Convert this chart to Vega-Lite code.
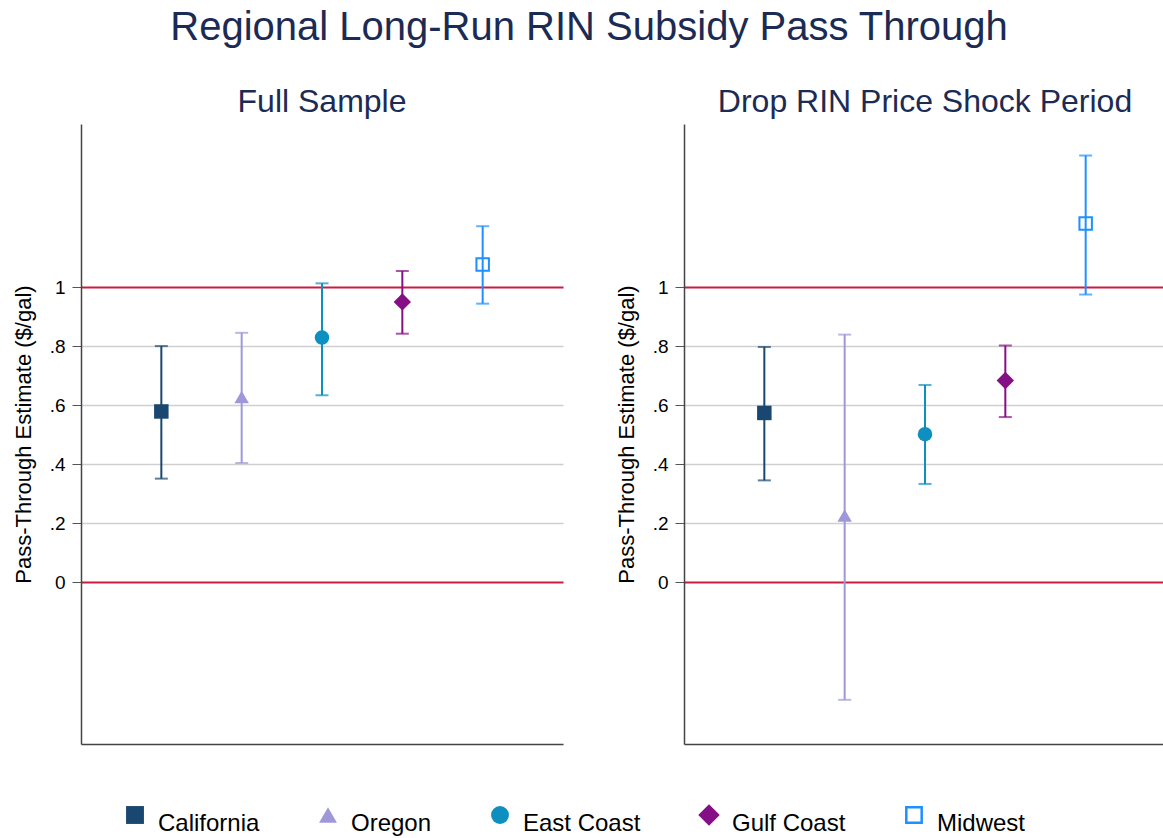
{
  "$schema": "https://vega.github.io/schema/vega-lite/v6.json",
  "background": "white",
  "padding": {"left": 12, "top": 8, "right": 0, "bottom": 0},
  "title": {"text": "Regional Long-Run RIN Subsidy Pass Through", "fontSize": 40, "font": "Liberation Sans", "fontWeight": "normal", "color": "#1c2b54", "anchor": "middle", "offset": 38},
  "data": {"values": [
    {"panel": "Full Sample", "region": "California", "est": 0.579, "lo": 0.351, "hi": 0.801},
    {"panel": "Full Sample", "region": "Oregon", "est": 0.628, "lo": 0.404, "hi": 0.846},
    {"panel": "Full Sample", "region": "East Coast", "est": 0.830, "lo": 0.634, "hi": 1.014},
    {"panel": "Full Sample", "region": "Gulf Coast", "est": 0.951, "lo": 0.843, "hi": 1.056},
    {"panel": "Full Sample", "region": "Midwest", "est": 1.078, "lo": 0.945, "hi": 1.208},
    {"panel": "Drop RIN Price Shock Period", "region": "California", "est": 0.574, "lo": 0.345, "hi": 0.798},
    {"panel": "Drop RIN Price Shock Period", "region": "Oregon", "est": 0.226, "lo": -0.400, "hi": 0.840},
    {"panel": "Drop RIN Price Shock Period", "region": "East Coast", "est": 0.502, "lo": 0.333, "hi": 0.669},
    {"panel": "Drop RIN Price Shock Period", "region": "Gulf Coast", "est": 0.684, "lo": 0.560, "hi": 0.803},
    {"panel": "Drop RIN Price Shock Period", "region": "Midwest", "est": 1.217, "lo": 0.976, "hi": 1.448}
  ]},
  "spacing": 52,
  "hconcat": [
    {
      "title": "Full Sample",
      "width": 482,
      "height": 620,
      "transform": [{"filter": "datum.panel == 'Full Sample'"}],
      "layer": [
        {
          "mark": {"type": "errorbar", "thickness": 2, "ticks": {"size": 13, "thickness": 2}},
          "encoding": {
            "x": {"field": "region", "type": "nominal", "sort": ["California", "Oregon", "East Coast", "Gulf Coast", "Midwest"], "scale": {"type": "point", "padding": 1}, "axis": {"title": null, "labels": false, "ticks": false, "grid": false, "domain": true, "domainColor": "#444444", "domainWidth": 1.5}},
            "y": {"field": "lo", "type": "quantitative", "scale": {"domain": [-0.55, 1.555], "nice": false, "zero": false},
              "axis": {"title": "Pass-Through Estimate ($/gal)", "values": [0, 0.2, 0.4, 0.6, 0.8, 1], "labelExpr": "datum.value == 0 ? '0' : datum.value == 1 ? '1' : replace(format(datum.value, '.1f'), '0.', '.')",
                "grid": true, "gridColor": {"condition": {"test": "datum.value == 0 || datum.value == 1", "value": "#c81d3f"}, "value": "#cfcfcf"},
                "gridWidth": {"condition": {"test": "datum.value == 0 || datum.value == 1", "value": 2}, "value": 1.5}}},
            "y2": {"field": "hi"},
            "color": {"field": "region", "type": "nominal", "scale": {"domain": ["California", "Oregon", "East Coast", "Gulf Coast", "Midwest"], "range": ["#1a476f", "#9e98da", "#0d8fc0", "#850f85", "#1e90ff"]}, "legend": {"title": null, "encode": {"labels": {"update": {"dy": {"value": 9}}}}}}
          }
        },
        {
          "mark": {"type": "point", "filled": true, "opacity": 1, "size": 210},
          "encoding": {
            "x": {"field": "region", "type": "nominal", "sort": ["California", "Oregon", "East Coast", "Gulf Coast", "Midwest"], "scale": {"type": "point", "padding": 1}, "axis": {"title": null, "labels": false, "ticks": false, "grid": false, "domain": true, "domainColor": "#444444", "domainWidth": 1.5}},
            "y": {"field": "est", "type": "quantitative",
              "axis": {"title": "Pass-Through Estimate ($/gal)", "values": [0, 0.2, 0.4, 0.6, 0.8, 1], "labelExpr": "datum.value == 0 ? '0' : datum.value == 1 ? '1' : replace(format(datum.value, '.1f'), '0.', '.')",
                "grid": true, "gridColor": {"condition": {"test": "datum.value == 0 || datum.value == 1", "value": "#c81d3f"}, "value": "#cfcfcf"},
                "gridWidth": {"condition": {"test": "datum.value == 0 || datum.value == 1", "value": 2}, "value": 1.5}}},
            "color": {"field": "region", "type": "nominal", "legend": {"title": null, "encode": {"labels": {"update": {"dy": {"value": 9}}}}}},
            "shape": {"field": "region", "type": "nominal", "scale": {"domain": ["California", "Oregon", "East Coast", "Gulf Coast", "Midwest"], "range": ["square", "triangle-up", "circle", "M0,-1.2L1.2,0L0,1.2L-1.2,0Z", "M-1,-1L1,-1L1,1L-1,1Z M-0.72,-0.72L-0.72,0.72L0.72,0.72L0.72,-0.72Z"]}, "legend": {"title": null, "encode": {"labels": {"update": {"dy": {"value": 9}}}}}}
          }
        }
      ]
    },
    {
      "title": "Drop RIN Price Shock Period",
      "width": 482,
      "height": 620,
      "transform": [{"filter": "datum.panel == 'Drop RIN Price Shock Period'"}],
      "layer": [
        {
          "mark": {"type": "errorbar", "thickness": 2, "ticks": {"size": 13, "thickness": 2}},
          "encoding": {
            "x": {"field": "region", "type": "nominal", "sort": ["California", "Oregon", "East Coast", "Gulf Coast", "Midwest"], "scale": {"type": "point", "padding": 1}, "axis": {"title": null, "labels": false, "ticks": false, "grid": false, "domain": true, "domainColor": "#444444", "domainWidth": 1.5}},
            "y": {"field": "lo", "type": "quantitative", "scale": {"domain": [-0.55, 1.555], "nice": false, "zero": false},
              "axis": {"title": "Pass-Through Estimate ($/gal)", "values": [0, 0.2, 0.4, 0.6, 0.8, 1], "labelExpr": "datum.value == 0 ? '0' : datum.value == 1 ? '1' : replace(format(datum.value, '.1f'), '0.', '.')",
                "grid": true, "gridColor": {"condition": {"test": "datum.value == 0 || datum.value == 1", "value": "#c81d3f"}, "value": "#cfcfcf"},
                "gridWidth": {"condition": {"test": "datum.value == 0 || datum.value == 1", "value": 2}, "value": 1.5}}},
            "y2": {"field": "hi"},
            "color": {"field": "region", "type": "nominal", "legend": {"title": null, "encode": {"labels": {"update": {"dy": {"value": 9}}}}}}
          }
        },
        {
          "mark": {"type": "point", "filled": true, "opacity": 1, "size": 210},
          "encoding": {
            "x": {"field": "region", "type": "nominal", "sort": ["California", "Oregon", "East Coast", "Gulf Coast", "Midwest"], "scale": {"type": "point", "padding": 1}, "axis": {"title": null, "labels": false, "ticks": false, "grid": false, "domain": true, "domainColor": "#444444", "domainWidth": 1.5}},
            "y": {"field": "est", "type": "quantitative",
              "axis": {"title": "Pass-Through Estimate ($/gal)", "values": [0, 0.2, 0.4, 0.6, 0.8, 1], "labelExpr": "datum.value == 0 ? '0' : datum.value == 1 ? '1' : replace(format(datum.value, '.1f'), '0.', '.')",
                "grid": true, "gridColor": {"condition": {"test": "datum.value == 0 || datum.value == 1", "value": "#c81d3f"}, "value": "#cfcfcf"},
                "gridWidth": {"condition": {"test": "datum.value == 0 || datum.value == 1", "value": 2}, "value": 1.5}}},
            "color": {"field": "region", "type": "nominal", "legend": {"title": null, "encode": {"labels": {"update": {"dy": {"value": 9}}}}}},
            "shape": {"field": "region", "type": "nominal", "legend": {"title": null, "encode": {"labels": {"update": {"dy": {"value": 9}}}}}}
          }
        }
      ]
    }
  ],
  "config": {
    "font": "Liberation Sans",
    "view": {"stroke": null},
    "title": {"fontSize": 32, "fontWeight": "normal", "color": "#1c2b54", "offset": 5},
    "axisY": {"labelFontSize": 19, "labelColor": "black", "titleFontSize": 22, "titleFontWeight": "normal", "titleColor": "black", "tickSize": 9, "tickColor": "#555555", "tickWidth": 1, "domainColor": "#444444", "domainWidth": 1.5, "labelPadding": 7, "titlePadding": 14},
    "legend": {"orient": "none", "legendX": 42, "legendY": 679, "direction": "horizontal", "labelFontSize": 24, "labelColor": "black", "symbolSize": 320, "symbolStrokeWidth": 0, "symbolOpacity": 1, "columnPadding": 56, "labelOffset": 11}
  }
}
